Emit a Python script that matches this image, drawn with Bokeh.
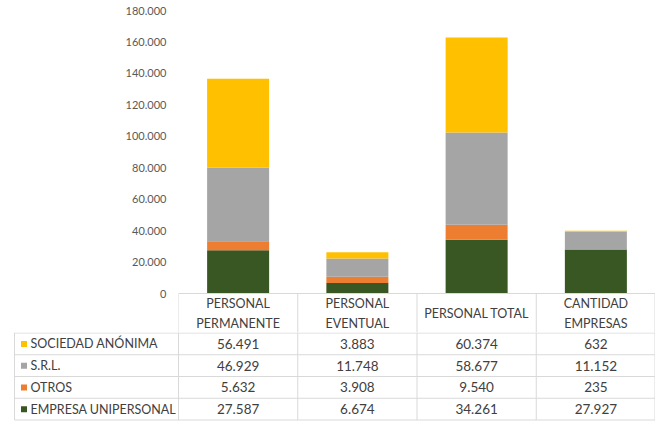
from bokeh.plotting import figure
from bokeh.models import Range1d, FixedTicker, ColumnDataSource, CustomJSTickFormatter
from bokeh.core.properties import value
from bokeh.embed import file_html
from bokeh.resources import INLINE

# ---------------- data ----------------
categories = ["PERSONAL\nPERMANENTE", "PERSONAL\nEVENTUAL", "PERSONAL TOTAL", "CANTIDAD\nEMPRESAS"]
series_names = ["SOCIEDAD ANÓNIMA", "S.R.L.", "OTROS", "EMPRESA UNIPERSONAL"]
sociedad_anonima = [56491, 3883, 60374, 632]
srl = [46929, 11748, 58677, 11152]
otros = [5632, 3908, 9540, 235]
empresa_unipersonal = [27587, 6674, 34261, 27927]
series_colors = ["#FFC000", "#A5A5A5", "#ED7D31", "#385723"]
y_ticks = [0, 20000, 40000, 60000, 80000, 100000, 120000, 140000, 160000, 180000]

series_values = [sociedad_anonima, srl, otros, empresa_unipersonal]

FONT = "Lato"
TXT = "#404040"
GRID = "#D9D9D9"

W = 655          # figure width
LEFT = 178       # left border (axis area / table label column)
TOP = 10
PLOT_H = 283     # pixels from 180.000 to 0
HEAD = 39        # header row of the data table (drawn inside the chart frame, below zero)
CHART_H = TOP + PLOT_H + HEAD
ROW = 21.75
TABLE_H = 89
n = len(categories)
y_max = y_ticks[-1]
ppx = y_max / PLOT_H          # data units per pixel (vertical)
y_min = -HEAD * ppx

# ---------------- chart ----------------
p = figure(width=W, height=CHART_H, x_range=Range1d(0, n), y_range=Range1d(y_min, y_max),
           output_backend="svg", toolbar_location=None, x_axis_location=None,
           min_border_left=LEFT, min_border_right=0, min_border_top=TOP, min_border_bottom=0)
p.outline_line_color = None
p.xgrid.visible = False
p.ygrid.visible = False
p.background_fill_color = "white"
p.border_fill_color = "white"

scale = (W - LEFT) / n
px = 1.0 / scale

src = ColumnDataSource(dict(
    x=[i + 0.5 for i in range(n)],
    eu=empresa_unipersonal, ot=otros, srl=srl, sa=sociedad_anonima,
))
p.vbar_stack(["eu", "ot", "srl", "sa"], x="x", width=0.52, source=src,
             fill_color=series_colors[::-1], line_color=None)

# category-axis line (top border of the data table) and the header cells' vertical lines
vxs = [i if i < n else n - 0.5 * px for i in range(n + 1)]
p.segment(x0=[0] + vxs, y0=[0] * (n + 2), x1=[n - 0.5 * px] + vxs, y1=[0] + [y_min] * (n + 1),
          line_color=GRID, line_width=1)

# header text (category names)
p.text(x=[i + 0.5 for i in range(n)], y=[-20 * ppx] * n, text=categories,
       text_align="center", text_baseline="middle", text_font=value(FONT),
       text_font_size="12.5px", text_color=TXT, text_line_height=1.3)

ax = p.yaxis[0]
ax.ticker = FixedTicker(ticks=y_ticks)
ax.formatter = CustomJSTickFormatter(code="return Math.round(tick).toString().replace(/\\B(?=(\\d{3})+(?!\\d))/g, '.');")
ax.axis_line_color = None
ax.major_tick_line_color = None
ax.minor_tick_line_color = None
ax.major_tick_out = 0
ax.major_tick_in = 0
ax.major_label_standoff = 12
ax.major_label_text_font = FONT
ax.major_label_text_font_size = "11px"
ax.major_label_text_color = "#595959"

# ---------------- data table rows ----------------
x_start = -LEFT / scale
label_left = -(LEFT - 14) / scale

t = figure(width=W, height=TABLE_H, x_range=Range1d(x_start, n), y_range=Range1d(TABLE_H, 0),
           output_backend="svg", toolbar_location=None, x_axis_location=None, y_axis_location=None,
           min_border=0, min_border_left=0, min_border_right=0, min_border_top=0, min_border_bottom=0)
t.outline_line_color = None
t.xgrid.visible = False
t.ygrid.visible = False
t.background_fill_color = "white"
t.border_fill_color = "white"

top = 0.5
bottom = top + len(series_names) * ROW
sx0, sy0, sx1, sy1 = [], [], [], []
for j in range(len(series_names) + 1):
    yy = top + j * ROW
    sx0.append(label_left); sx1.append(n - 0.5 * px); sy0.append(yy); sy1.append(yy)
for xx in vxs + [label_left]:
    sx0.append(xx); sx1.append(xx); sy0.append(0); sy1.append(bottom)
t.segment(x0=sx0, y0=sy0, x1=sx1, y1=sy1, line_color=GRID, line_width=1)

row_y = [top + j * ROW + ROW / 2 for j in range(len(series_names))]
t.scatter(x=[label_left + 9.5 * px] * len(series_names), y=row_y, marker="square", size=6,
          fill_color=series_colors, line_color=None)
t.text(x=[label_left + 16 * px] * len(series_names), y=row_y, text=series_names,
       text_align="left", text_baseline="middle", text_font=value(FONT),
       text_font_size="12.5px", text_color=TXT)

vx, vy, vt = [], [], []
for j, vals in enumerate(series_values):
    for i, v in enumerate(vals):
        vx.append(i + 0.5)
        vy.append(row_y[j])
        vt.append(f"{v:,}".replace(",", "."))
t.text(x=vx, y=vy, text=vt, text_align="center", text_baseline="middle",
       text_font=value(FONT), text_font_size="13.5px", text_color=TXT)

open("out.html", "w").write(file_html([p, t], INLINE))
